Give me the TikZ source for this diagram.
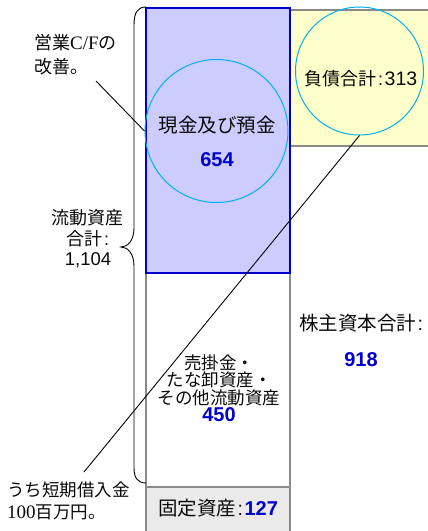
\documentclass[tikz,border=0pt]{standalone}
\usepackage{fontspec}
\newfontfamily\jp{Noto Sans CJK JP}
\newfontfamily\lsans{Liberation Sans}
\newfontfamily\lserif{Liberation Serif}
\definecolor{cashfill}{HTML}{CCCCFF}
\definecolor{cashline}{HTML}{0000CC}
\definecolor{liabfill}{HTML}{FFFFCC}
\definecolor{boxgray}{HTML}{8A8A8A}
\definecolor{fixfill}{HTML}{EAEAEA}
\definecolor{ringc}{HTML}{00B0F0}
\definecolor{numblue}{HTML}{0000CC}
\definecolor{inkc}{HTML}{0A0A0A}
\newcommand{\jcolon}{\hspace{1.5pt}{\lsans :}\hspace{1.5pt}}
\tikzset{
  ring/.style={circle, draw=ringc, line width=1pt, inner sep=0pt},
  txt/.style={inner sep=0pt, text=inkc},
  num/.style={inner sep=0pt, text=numblue, font=\lsans\bfseries\fontsize{20}{20}\selectfont},
  leader/.style={draw=black, line width=0.9pt},
  grayedge/.style={draw=boxgray, line width=1.6pt},
}
\begin{document}
\begin{tikzpicture}[x=1pt,y=-1pt]
\useasboundingbox (0,0) rectangle (428,531);
% equity column edge
\draw[grayedge] (290,146) -- (290,533);
% current assets (other) box
\draw[grayedge, fill=white] (146,273) rectangle (290,487);
% fixed assets box
\draw[grayedge, fill=fixfill] (146,487) rectangle (290,534);
% liabilities box
\draw[draw=boxgray, line width=2.4pt, fill=liabfill] (290,10) rectangle (434,146);
% cash box
\draw[draw=cashline, line width=2pt, fill=cashfill] (146,8) rectangle (290,273);
% rings
\node[ring, minimum size=143pt] (cashring) at (216.5,131) {};
\node[ring, minimum size=128pt] (liabring) at (359.5,71) {};
% texts
\node[txt, font=\jp\fontsize{19.5}{19.5}\selectfont] (cashlbl) at (217,125) {現金及び預金};
\node[num] (cashnum) at (217,160) {654};
\node[txt, font=\jp\fontsize{18}{18}\selectfont] (liablbl) at (361,79) {負債合計\jcolon{\lsans\fontsize{19.5}{19.5}\selectfont 313}};
\node[txt, font=\jp\fontsize{19.5}{19.5}\selectfont] (eqlbl) at (361,323) {株主資本合計\jcolon};
\node[num] (eqnum) at (361,360) {918};
\node[txt, align=center, font=\jp\fontsize{17.5}{17.5}\selectfont] (calbl) at (219,380) {売掛金・\\たな卸資産・\\その他流動資産};
\node[num] (canum) at (219,415) {450};
\node[txt, font=\jp\fontsize{19.5}{19.5}\selectfont] (fixlbl) at (218,508) {固定資産\jcolon{\lsans\bfseries\fontsize{20}{20}\selectfont\color{numblue}127}};
% left labels
\node[txt, align=left, anchor=west, font=\jp\fontsize{18}{24}\selectfont] (cflbl) at (34,55) {営業{\lserif\fontsize{19}{24}\selectfont C/F}の\\改善。};
\node[txt, align=center, font=\jp\fontsize{18}{20.5}\selectfont] (totlbl) at (88,239) {流動資産\\合計\jcolon\\{\lsans\fontsize{18.5}{20.5}\selectfont 1,104}};
\node[txt, align=left, anchor=west, font=\jp\fontsize{17.5}{22}\selectfont] (stlbl) at (7,501) {うち短期借入金\\{\lserif\fontsize{19}{22}\selectfont 100}百万円。};
% brace
\draw[line width=0.9pt] (146,7) .. controls (138,7) and (134,12) .. (134,25) -- (134,228)
  .. controls (134,240) and (128,247) .. (121,247)
  .. controls (128,247) and (134,254) .. (134,266) -- (134,468)
  .. controls (134,478) and (138,483) .. (146,483);
% leaders
\coordinate (cfend) at (96,81);
\coordinate (stend) at (84,472);
\draw[leader] (cfend) -- (cashring.west);
\draw[leader] (stend) -- (liabring.south);
\end{tikzpicture}
\end{document}
